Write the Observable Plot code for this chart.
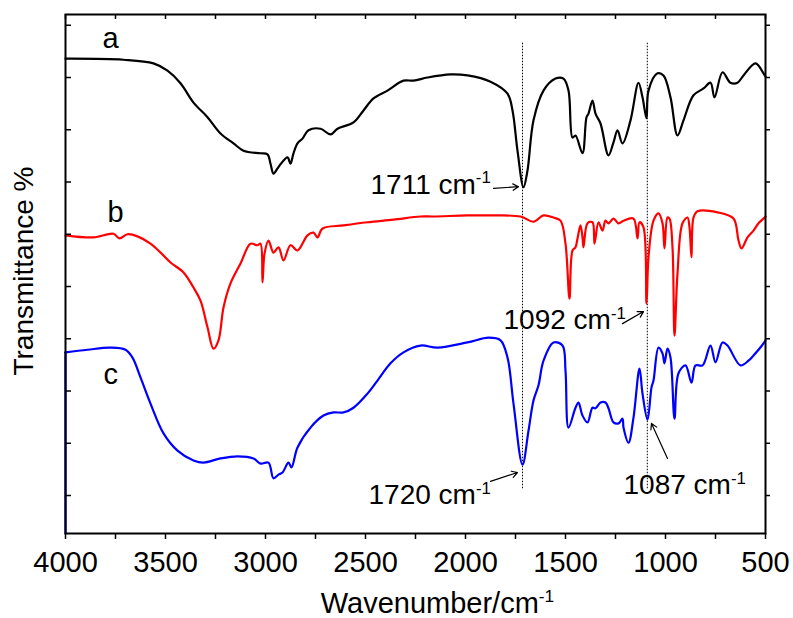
<!DOCTYPE html>
<html><head><meta charset="utf-8">
<script src="https://cdn.jsdelivr.net/npm/d3@7"></script>
<script src="https://cdn.jsdelivr.net/npm/@observablehq/plot@0.6"></script>
<style>
body{margin:0;background:#fff;}
#chart{width:793px;height:618px;}
</style></head><body><div id="chart"></div>
<script>
// Series a (black)
const waveA = [4000,3710,3560,3490,3425,3360,3290,3225,3160,3110,3025,2990,2975,2960,2940,2925,2890,2875,2860,2840,2815,2785,2725,2675,2640,2560,2510,2460,2390,2310,2260,2190,2075,1990,1875,1790,1765,1740,1710,1690,1660,1610,1550,1510,1485,1465,1450,1415,1395,1385,1365,1350,1325,1285,1260,1240,1215,1175,1135,1115,1095,1085,1040,1010,975,940,910,860,810,775,755,715,675,640,610,550,510,500];
const transA = [93.6,93.4,92.7,91.3,88.9,85.2,82.4,79.3,77.4,76.0,75.5,75.3,73.5,71.6,72.6,73.4,74.7,73.5,75.5,77.4,78.3,79.9,80.2,79.1,80.2,81.4,83.7,86.0,87.5,89.4,89.4,90.0,90.6,90.4,89.2,86.9,83.7,76.0,69.0,72.2,81.8,87.5,89.8,89.8,87.5,78.5,78.9,75.5,82.4,83.1,85.6,83.1,81.2,75.1,77.6,79.9,77.4,81.8,89.0,86.2,82.2,87.5,90.8,90.4,86.2,78.9,81.8,86.6,87.9,89.0,86.2,91.0,89.0,89.0,90.4,92.7,90.8,90.2];
// Series b (red)
const waveB = [4000,3860,3760,3730,3690,3640,3575,3525,3475,3410,3360,3325,3290,3260,3235,3210,3175,3125,3075,3040,3025,3015,3005,2985,2960,2935,2910,2875,2840,2790,2760,2740,2715,2610,2490,2360,2225,2160,1990,1875,1725,1660,1610,1560,1525,1500,1480,1465,1450,1440,1425,1415,1410,1390,1365,1355,1335,1315,1300,1285,1260,1235,1210,1160,1140,1130,1110,1095,1085,1060,1035,1015,1005,990,980,965,955,940,915,890,880,870,860,840,740,660,635,620,590,560,535,510,500];
const transB = [59.8,59.4,60.1,59.2,60.0,59.6,58.2,56.5,54.6,52.7,49.8,47.3,42.2,38.1,39.7,46.0,50.6,54.4,58.2,57.9,58.2,50.8,56.3,58.8,56.5,57.5,55.0,57.9,56.9,59.8,60.3,59.4,61.1,61.7,62.3,62.8,63.4,63.4,63.6,63.6,63.4,62.4,63.6,63.2,62.6,58.2,47.7,56.9,57.5,59.2,61.7,59.4,57.5,62.1,62.3,58.2,62.3,60.7,62.6,62.1,63.0,62.1,62.6,63.0,59.2,62.3,61.3,46.7,55.6,62.6,64.0,62.1,57.3,63.2,63.0,57.5,40.6,52.5,62.1,63.2,61.3,55.6,63.2,64.4,64.2,63.0,58.8,57.3,59.4,60.7,62.1,63.0,63.4];
// Series c (blue); the first value is the bottom of the vertical edge segment at 4000
const waveC = [4000,4000,3890,3775,3700,3665,3625,3575,3510,3440,3360,3310,3225,3140,3060,3025,2985,2960,2935,2915,2885,2870,2840,2775,2710,2660,2610,2560,2490,2440,2375,2310,2225,2140,1990,1885,1825,1790,1760,1715,1685,1660,1635,1610,1560,1515,1500,1485,1450,1435,1415,1390,1365,1350,1325,1300,1285,1260,1235,1215,1210,1185,1160,1130,1115,1090,1070,1060,1035,1015,1005,990,975,955,935,900,870,850,815,775,750,715,690,625,585,560,510,500];
const transC = [2.73,37.4,37.9,38.3,37.9,36.4,32.6,27.6,21.9,18.6,16.7,16.3,17.1,17.5,17.1,16.1,16.3,13.3,14.0,14.4,16.3,15.4,19.2,23.0,25.3,25.9,25.9,26.8,29.5,32.0,35.3,37.4,38.7,38.3,39.3,40.2,39.7,36.4,27.6,15.9,22.4,28.2,31.1,35.8,39.3,38.7,33.9,23.0,26.8,27.8,25.3,24.0,26.8,26.7,27.8,27.8,26.7,24.0,23.8,24.7,23.0,20.1,24.9,34.3,29.5,24.5,30.7,32.0,38.3,37.2,35.3,38.1,36.4,24.7,33.4,34.9,31.6,34.9,34.9,38.7,35.5,39.3,38.7,34.9,35.8,36.8,39.1,39.7];

const seriesNames = ["a", "b", "c"];
const seriesColors = ["#000000", "#ff0000", "#0000ff"];
const seriesLabelX = [3815, 3790, 3810];
const seriesLabelY = [95.6, 62.3, 31.4];

const xTickValues = [4000,3750,3500,3250,3000,2750,2500,2250,2000,1750,1500,1250,1000,750,500];
const yTickValues = [10,20,30,40,50,60,70,80,90,100];
const xDomain = [4000, 500];
const yDomain = [2.73, 102.06];

// dotted guide lines
const guideWaves = [1715, 1091];
const guideSpan = [11.3, 96.7];

// peak annotations
const annotText = ["1711 cm-1", "1092 cm-1", "1720 cm-1", "1087 cm-1"];
const annotX = [2475, 1810, 2485, 1210];
const annotY = [67.8, 41.8, 8.3, 10.2];
const arrowX1 = [1860, 1215, 1875, 990];
const arrowY1 = [68.8, 42.9, 12.7, 17.1];
const arrowX2 = [1735, 1110, 1740, 1070];
const arrowY2 = [69.1, 45.2, 14.4, 23.8];

const rows = [];
[[waveA, transA, 0], [waveB, transB, 0], [waveC, transC, 1]].forEach(([w, t, start], k) => {
  const n = Math.min(w.length, t.length);
  for (let i = start; i < n; i++) rows.push({series: seriesNames[k], wave: w[i], t: t[i]});
});
// straight edge segment of series c
const edgeC = [{wave: waveC[0], t: transC[0]}, {wave: waveC[1], t: transC[1]}];

const idx4 = annotText.map((_, i) => i);

const chart = Plot.plot({
  width: 793, height: 618,
  marginLeft: 65, marginRight: 28, marginTop: 14, marginBottom: 85,
  style: {fontFamily: "'Liberation Sans', Arial, sans-serif", background: "white", color: "black", overflow: "visible"},
  x: {domain: xDomain},
  y: {domain: yDomain},
  color: {domain: seriesNames, range: seriesColors},
  marks: [
    Plot.ruleX(guideWaves, {x: d => d, y1: guideSpan[0], y2: guideSpan[1], stroke: "black", strokeWidth: 1, strokeDasharray: "1.5,1.5"}),
    Plot.line(rows, {x: "wave", y: "t", z: "series", stroke: "series", strokeWidth: 2.2, curve: "catmull-rom"}),
    Plot.line(edgeC, {x: "wave", y: "t", stroke: seriesColors[2], strokeWidth: 2.2}),
    Plot.frame({stroke: "black", strokeWidth: 2}),
    Plot.axisX(xTickValues, {tickSize: 6, tickPadding: 12, strokeWidth: 1.5, fontSize: 29, label: null,
      tickFormat: d => d % 500 === 0 ? String(d) : ""}),
    Plot.tickX(xTickValues, {x: d => d, insetBottom: 514, stroke: "black", strokeWidth: 1.5}),
    Plot.axisY(yTickValues, {anchor: "right", tickSize: 4, strokeWidth: 1.5, tickFormat: () => "", label: null}),
    Plot.tickY(yTickValues, {y: d => d, insetRight: 694, stroke: "black", strokeWidth: 1.5}),
    Plot.text(seriesNames, {x: (d, i) => seriesLabelX[i], y: (d, i) => seriesLabelY[i], text: d => d,
      textAnchor: "start", lineAnchor: "bottom", fontSize: 29, fill: "black"}),
    Plot.text(annotText, {x: (d, i) => annotX[i], y: (d, i) => annotY[i], text: d => d,
      textAnchor: "start", lineAnchor: "bottom", fontSize: 28, fill: "black"}),
    Plot.arrow(idx4, {x1: i => arrowX1[i], y1: i => arrowY1[i], x2: i => arrowX2[i], y2: i => arrowY2[i],
      stroke: "black", strokeWidth: 1.2, headLength: 8}),
    Plot.text(["Transmittance %"], {frameAnchor: "left", dx: -41, dy: -3, rotate: -90, textAnchor: "middle", lineAnchor: "middle", fontSize: 28, fill: "black"}),
    Plot.text(["Wavenumber/cm-1"], {frameAnchor: "bottom", dy: 70, dx: 22, textAnchor: "middle", lineAnchor: "middle", fontSize: 29, fill: "black"})
  ]
});

d3.select(chart).selectAll("text").each(function() {
  const t = this.textContent;
  if (t.endsWith("cm-1")) {
    const sel = d3.select(this);
    sel.text(t.slice(0, -2));
    sel.append("tspan").attr("dy", "-0.6em").attr("font-size", "0.6em").text("-1");
  }
});

document.getElementById("chart").appendChild(chart);
</script>
</body></html>
